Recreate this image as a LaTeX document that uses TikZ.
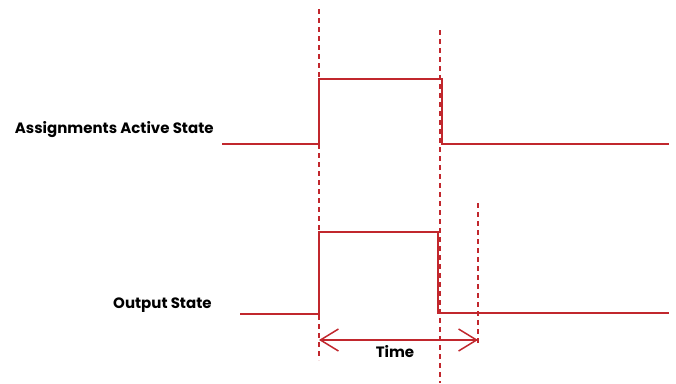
\documentclass[tikz,border=0pt]{standalone}
\usepackage{fontspec}
\setmainfont{Poppins}
\usetikzlibrary{arrows.meta}
\definecolor{sigred}{RGB}{193,39,45}

\begin{document}
\begin{tikzpicture}[x=1pt, y=-1pt, thick,
    sig/.style = {draw=sigred, line width=1.5pt},
    marker/.style = {draw=sigred, line width=1.3pt, dash pattern=on 5pt off 4pt},
    lbl/.style = {font=\fontsize{15}{17}\selectfont\bfseries, inner sep=0pt}]
        \useasboundingbox (0,0) rectangle (676,383);
        %% Labels
        \node[lbl, anchor=east] (act) at (214,130) {Assignments Active State};
        \node[lbl, anchor=east] (out) at (212,305) {Output State};
        %% Markers
        \draw[marker] (319,9) -- (319,360);
        \draw[marker] (440,30) -- (440,383);
        \draw[marker] (478,203) -- (478,345);
        %% Signals
        \draw[sig] (222,144) -- (319,144) -- (319,79) -- (442,79) -- (442,144) -- (669,144);
        \draw[sig] (240,314) -- (319,314) -- (319,232) -- (438,232) -- (438,313) -- (669,313);
        %% Time span
        \coordinate (t1) at (319,340);
        \coordinate (t2) at (478,340);
        \draw[sig, {Straight Barb[length=18pt,width=22pt]}-{Straight Barb[length=18pt,width=22pt]}] (t1) -- (t2);
        \node[lbl] (time) at (395,352) {Time};
    \end{tikzpicture}
\end{document}
